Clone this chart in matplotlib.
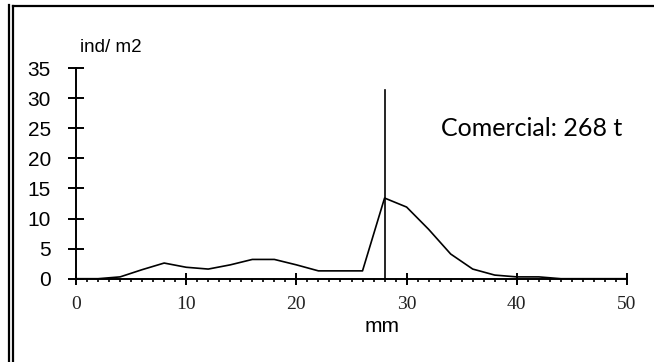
import matplotlib.pyplot as plt
from matplotlib.lines import Line2D
from matplotlib.ticker import MultipleLocator

# size classes (mm) and density (ind/m2)
talla = [0, 2, 4, 6, 8, 10, 12, 14, 16, 18, 20, 22, 24, 26, 28,
         30, 32, 34, 36, 38, 40, 42, 44, 46, 48, 50]
densidad = [0, 0, 0.3, 1.5, 2.6, 1.9, 1.6, 2.3, 3.2, 3.2, 2.3, 1.3, 1.3, 1.3, 13.4,
            11.9, 8.2, 4.1, 1.6, 0.6, 0.3, 0.3, 0, 0, 0, 0]
talla_comercial = 28
alto_linea = 31.3
etiqueta = "Comercial: 268 t"

W, H = 654, 362
fig = plt.figure(figsize=(W / 100, H / 100), dpi=100)
ax = fig.add_axes([76 / W, (H - 278.7) / H, (627 - 76) / W, (278.7 - 68) / H])

ax.plot(talla, densidad, color="black", lw=1.2)
ax.plot([talla_comercial, talla_comercial], [0, alto_linea], color="black", lw=1.2)

ax.set_xlim(0, 50)
ax.set_ylim(0, 35)
for s in ["top", "right"]:
    ax.spines[s].set_visible(False)
for s in ["left", "bottom"]:
    ax.spines[s].set_linewidth(1.4)
    ax.spines[s].set_clip_on(False)

ax.xaxis.set_major_locator(MultipleLocator(10))
ax.xaxis.set_minor_locator(MultipleLocator(1))
ax.yaxis.set_major_locator(MultipleLocator(5))
ax.tick_params(axis="y", direction="inout", length=11, width=1.4, pad=12.5,
               labelsize=15)
ax.tick_params(axis="x", which="major", direction="inout", length=9, width=1.4,
               pad=8, labelsize=14)
ax.tick_params(axis="x", which="minor", direction="out", length=2.5, width=1.2)
for lab in ax.get_yticklabels():
    lab.set_family("Liberation Sans")
for lab in ax.get_xticklabels():
    lab.set_family("Liberation Serif")
    lab.set_color("#222222")

fig.text(80 / W, 1 - 48 / H, "ind/ m2", family="Liberation Sans", fontsize=13.5,
         va="center", ha="left")
fig.text(382 / W, 1 - 327 / H, "mm", family="Liberation Sans", fontsize=15,
         va="center", ha="center")
ax.text(0.663, 0.715, etiqueta, transform=ax.transAxes, family="Lato",
        fontsize=18, va="center", ha="left")

# frame around the chart
def fline(xs, ys, lw=1.6):
    fig.add_artist(Line2D([x / W for x in xs], [1 - y / H for y in ys],
                          color="black", lw=lw, transform=fig.transFigure))

fline([8.5, 8.5], [5, H + 2])
fline([12.5, 12.5], [6, H + 2])
fline([12.5, W + 2], [6, 6])

fig.savefig("out.png", dpi=100)
